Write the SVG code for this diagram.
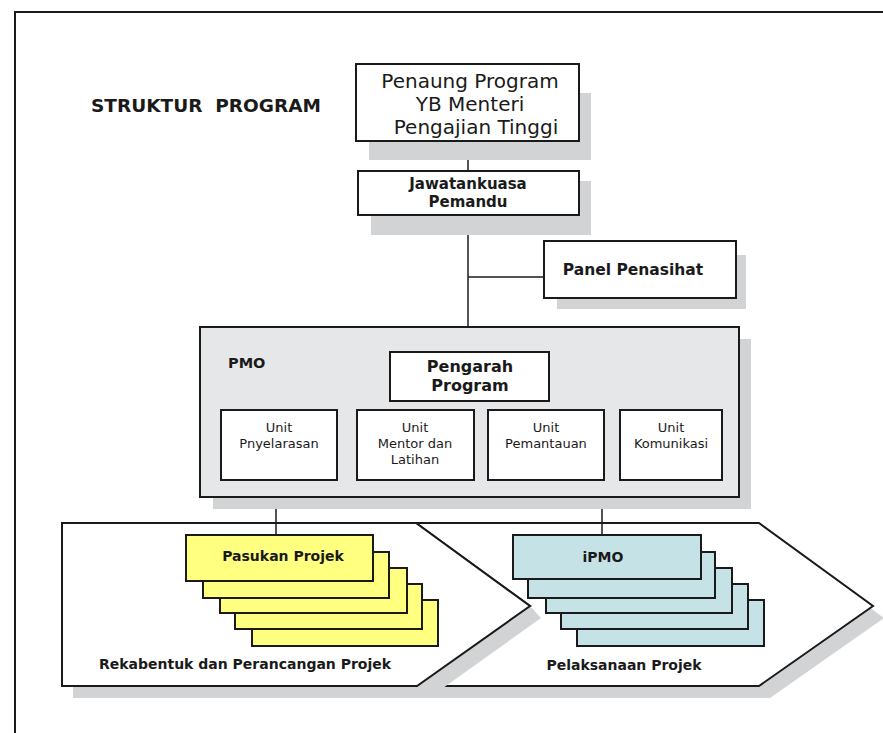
<svg xmlns="http://www.w3.org/2000/svg" width="883" height="733" viewBox="0 0 883 733">
<style>
text{font-family:"DejaVu Sans","Liberation Sans",sans-serif;fill:#1a1a1a}
.b{font-weight:bold}
.c{text-anchor:middle}
.box{fill:#fff;stroke:#1a1a1a;stroke-width:2}
.sh{fill:#d1d3d4}
.y{fill:#ffff80;stroke:#1a1a1a;stroke-width:2}
.bl{fill:#c5e3e6;stroke:#1a1a1a;stroke-width:2}
.ln{stroke:#1a1a1a;stroke-width:1.5;fill:none}
.u{font-size:13px}
</style>
<rect width="883" height="733" fill="#fff"/>
<path d="M15,733 V12 H883" fill="none" stroke="#1a1a1a" stroke-width="2"/>
<text x="91" y="112" class="b" font-size="18.5" style="white-space:pre" xml:space="preserve">STRUKTUR  PROGRAM</text>

<g id="chevron-pelaksanaan">
<path class="sh" d="M427,535 H770 L884,618 L770,698 H427 L541,618 Z"/>
<path class="box" d="M416,523 H759 L873,606 L759,686 H416 L530,606 Z"/>
<text x="624" y="670" class="b c" font-size="14">Pelaksanaan Projek</text>
</g>
<g id="chevron-rekabentuk">
<path class="sh" d="M530,606 L541,618 L429,698 H73 V686 H417 Z"/>
<path class="box" d="M62,523 H416 L530,606 L417,686 H62 Z"/>
<text x="245" y="669" class="b c" font-size="14">Rekabentuk dan Perancangan Projek</text>
</g>

<g id="connectors">
<line class="ln" x1="468" y1="141" x2="468" y2="171"/>
<line class="ln" x1="468" y1="215" x2="468" y2="327"/>
<line class="ln" x1="468" y1="277" x2="544" y2="277"/>
<line class="ln" x1="276" y1="497" x2="276" y2="535"/>
<line class="ln" x1="602" y1="497" x2="602" y2="535"/>
</g>

<g id="penaung">
<rect class="sh" x="369" y="93" width="222" height="67"/>
<rect class="box" x="356" y="64" width="223" height="77"/>
<text x="470" y="88" class="c" font-size="20">Penaung Program</text>
<text x="470" y="111" class="c" font-size="20">YB Menteri</text>
<text x="476" y="134" class="c" font-size="20">Pengajian Tinggi</text>
</g>

<g id="jawatankuasa">
<rect class="sh" x="371" y="181" width="220" height="54"/>
<rect class="box" x="358" y="171" width="221" height="44"/>
<text x="468" y="189" class="b c" font-size="15">Jawatankuasa</text>
<text x="468" y="207" class="b c" font-size="15">Pemandu</text>
</g>

<g id="panel">
<rect class="sh" x="557" y="255" width="189" height="54"/>
<rect class="box" x="544" y="241" width="192" height="57"/>
<text x="633" y="275" class="b c" font-size="15.5">Panel Penasihat</text>
</g>

<g id="pmo">
<rect class="sh" x="213" y="339" width="538" height="170"/>
<rect x="200" y="327" width="539" height="170" fill="#e6e7e8" stroke="#1a1a1a" stroke-width="2"/>
<text x="228" y="368" class="b" font-size="14.5">PMO</text>
</g>

<g id="pengarah">
<rect class="box" x="390" y="352" width="159" height="49"/>
<text x="470" y="372" class="b c" font-size="16">Pengarah</text>
<text x="470" y="391" class="b c" font-size="16">Program</text>
</g>

<g id="unit-pnyelarasan">
<rect class="box" x="221" y="410" width="116" height="70"/>
<text x="279" y="432" class="c u">Unit</text>
<text x="279" y="448" class="c u">Pnyelarasan</text>
</g>
<g id="unit-mentor">
<rect class="box" x="357" y="410" width="117" height="70"/>
<text x="415" y="432" class="c u">Unit</text>
<text x="415" y="448" class="c u">Mentor dan</text>
<text x="415" y="464" class="c u">Latihan</text>
</g>
<g id="unit-pemantauan">
<rect class="box" x="488" y="410" width="116" height="70"/>
<text x="546" y="432" class="c u">Unit</text>
<text x="546" y="448" class="c u">Pemantauan</text>
</g>
<g id="unit-komunikasi">
<rect class="box" x="620" y="410" width="102" height="70"/>
<text x="671" y="432" class="c u">Unit</text>
<text x="671" y="448" class="c u">Komunikasi</text>
</g>

<g id="pasukan-projek">
<rect class="y" x="252" y="600" width="186" height="46"/>
<rect class="y" x="235" y="584" width="187" height="45"/>
<rect class="y" x="220" y="568" width="187" height="45"/>
<rect class="y" x="203" y="552" width="186" height="46"/>
<rect class="y" x="186" y="535" width="187" height="46"/>
<text x="283" y="561" class="b c" font-size="14">Pasukan Projek</text>
</g>

<g id="ipmo">
<rect class="bl" x="577" y="600" width="187" height="46"/>
<rect class="bl" x="561" y="584" width="187" height="45"/>
<rect class="bl" x="546" y="568" width="186" height="45"/>
<rect class="bl" x="528" y="552" width="187" height="46"/>
<rect class="bl" x="513" y="535" width="188" height="44"/>
<text x="603" y="562" class="b c" font-size="14">iPMO</text>
</g>
</svg>
